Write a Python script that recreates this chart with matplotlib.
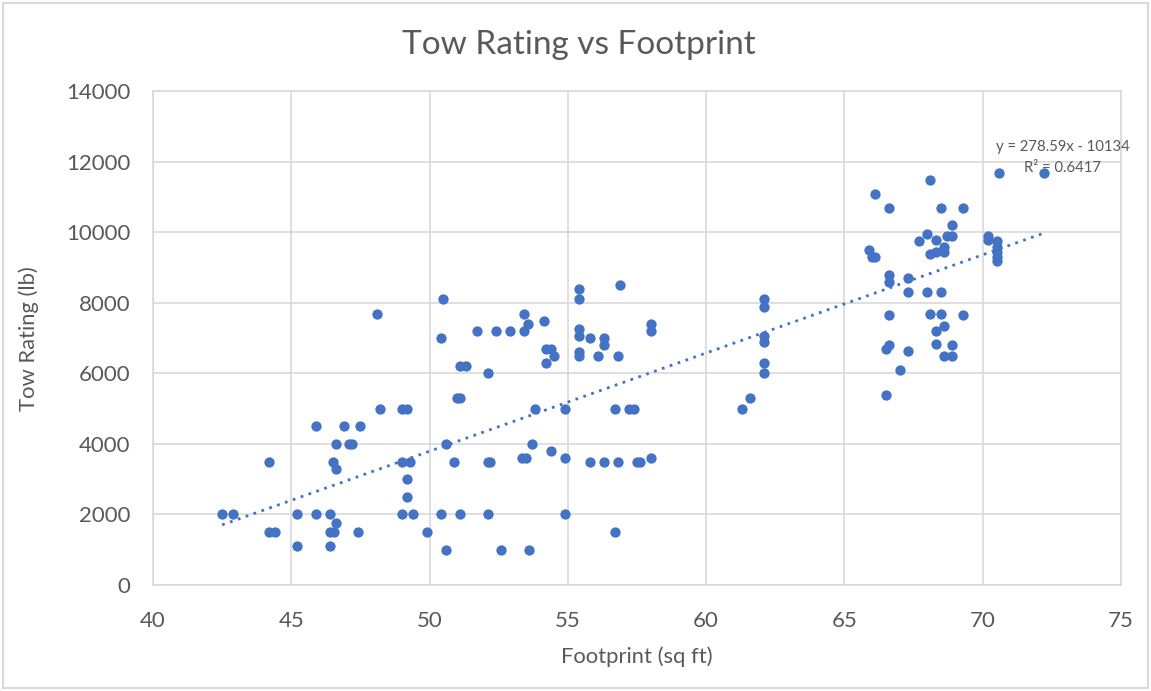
import numpy as np
import matplotlib.pyplot as plt
from matplotlib.patches import Rectangle

plt.rcParams['font.family'] = ['Lato', 'DejaVu Sans']

footprint = [
    50.5, 48.1, 50.4, 51.1, 51.3, 51.0, 51.1, 45.9, 46.9, 47.5,
    48.2, 49.0, 49.2, 46.6, 47.1, 47.2, 50.6, 44.2, 46.5, 46.6,
    49.0, 49.3, 50.9, 49.2, 49.2, 42.5, 42.9, 45.2, 45.9, 46.4,
    49.0, 49.4, 50.4, 51.1, 46.6, 44.2, 44.4, 46.4, 46.55, 47.4,
    49.9, 45.2, 46.4, 50.6,
    55.4, 55.4, 56.9, 62.1, 62.1, 53.4, 53.55, 54.15, 51.7, 52.4,
    52.9, 53.4, 55.4, 55.4, 55.8, 56.3, 56.3, 58.0, 58.0, 54.2,
    54.4, 54.5, 54.2, 55.4, 55.4, 56.1, 56.8, 52.1, 53.8, 54.9,
    56.7, 57.2, 57.4, 61.3, 61.6, 53.7, 54.4, 52.1, 52.2, 53.35,
    53.5, 54.9, 55.8, 56.3, 56.8, 57.5, 57.6, 58.0, 52.1, 54.9,
    56.7, 52.6, 53.6,
    70.6, 72.2, 68.1, 66.1, 66.6, 68.5, 69.3, 68.9, 68.0, 68.3,
    67.7, 68.7, 68.9, 70.2, 70.2, 70.5, 70.5, 70.5, 70.5, 70.5,
    65.9, 66.0, 66.1, 68.1, 68.3, 68.6, 68.6, 66.6, 66.6, 67.3,
    67.3, 68.0, 68.5, 66.6, 68.1, 68.5, 69.3, 68.6, 68.3, 62.1,
    62.1, 68.3, 66.6, 66.5, 68.9, 67.3, 68.6, 68.9, 62.1, 62.1,
    67.0, 66.5,
]
tow_rating = [
    8100, 7700, 7000, 6200, 6200, 5300, 5300, 4500, 4500, 4500,
    5000, 5000, 5000, 4000, 4000, 4000, 4000, 3500, 3500, 3300,
    3500, 3500, 3500, 3000, 2500, 2000, 2000, 2000, 2000, 2000,
    2000, 2000, 2000, 2000, 1750, 1500, 1500, 1500, 1500, 1500,
    1500, 1100, 1100, 1000,
    8400, 8100, 8500, 8100, 7900, 7700, 7400, 7500, 7200, 7200,
    7200, 7200, 7250, 7050, 7000, 7000, 6800, 7400, 7200, 6700,
    6700, 6500, 6300, 6600, 6500, 6500, 6500, 6000, 5000, 5000,
    5000, 5000, 5000, 5000, 5300, 4000, 3800, 3500, 3500, 3600,
    3600, 3600, 3500, 3500, 3500, 3500, 3500, 3600, 2000, 2000,
    1500, 1000, 1000,
    11700, 11700, 11500, 11100, 10700, 10700, 10700, 10200, 9950, 9800,
    9750, 9900, 9900, 9900, 9800, 9750, 9600, 9450, 9300, 9200,
    9500, 9300, 9300, 9400, 9450, 9600, 9450, 8800, 8600, 8700,
    8300, 8300, 8300, 7650, 7700, 7700, 7650, 7350, 7200, 7050,
    6900, 6850, 6800, 6700, 6800, 6650, 6500, 6500, 6300, 6000,
    6100, 5400,
]

# trendline as reported on the chart
slope = 278.59
intercept = -10134
r_squared = 0.6417

blue = '#4472C4'
text_gray = '#595959'
grid_gray = '#D9D9D9'

fig = plt.figure(figsize=(11.51, 6.91), dpi=100)
ax = fig.add_axes([0.1329, 0.1534, 0.9740 - 0.1329, 0.8676 - 0.1534])

ax.scatter(footprint, tow_rating, s=55, color=blue, zorder=3, linewidths=0)

x_fit = np.array([min(footprint), max(footprint)])
ax.plot(x_fit, slope * x_fit + intercept, linestyle=(0, (1, 2)), color=blue,
        linewidth=2, zorder=2)

ax.text(72.9, 12420, f"y = {slope}x - {abs(intercept)}", ha='center', va='center',
        fontsize=10.7, color=text_gray)
ax.text(72.9, 11830, f"R² = {r_squared}", ha='center', va='center',
        fontsize=10.7, color=text_gray)

ax.set_xlim(40, 75)
ax.set_ylim(0, 14000)
ax.set_xticks(range(40, 80, 5))
ax.set_yticks(range(0, 16000, 2000))
ax.grid(True, color=grid_gray, linewidth=1.2, zorder=0)
ax.set_axisbelow(True)
for s in ax.spines.values():
    s.set_color(grid_gray)
    s.set_linewidth(1.2)
ax.tick_params(length=0, labelsize=16, labelcolor=text_gray)
ax.tick_params(axis='x', pad=19)
ax.tick_params(axis='y', pad=16)

ax.set_xlabel("Footprint (sq ft)", fontsize=15.8, color=text_gray, labelpad=11)
ax.set_ylabel("Tow Rating (lb)", fontsize=15.8, color=text_gray, labelpad=20)
fig.text(0.503, 0.935, "Tow Rating vs Footprint", ha='center', va='center',
         fontsize=24, color=text_gray)

fig.patches.append(Rectangle((0.003, 0.004), 0.994, 0.992, transform=fig.transFigure,
                             fill=False, edgecolor=grid_gray, linewidth=1.5))

fig.savefig("out.png", dpi=100)
